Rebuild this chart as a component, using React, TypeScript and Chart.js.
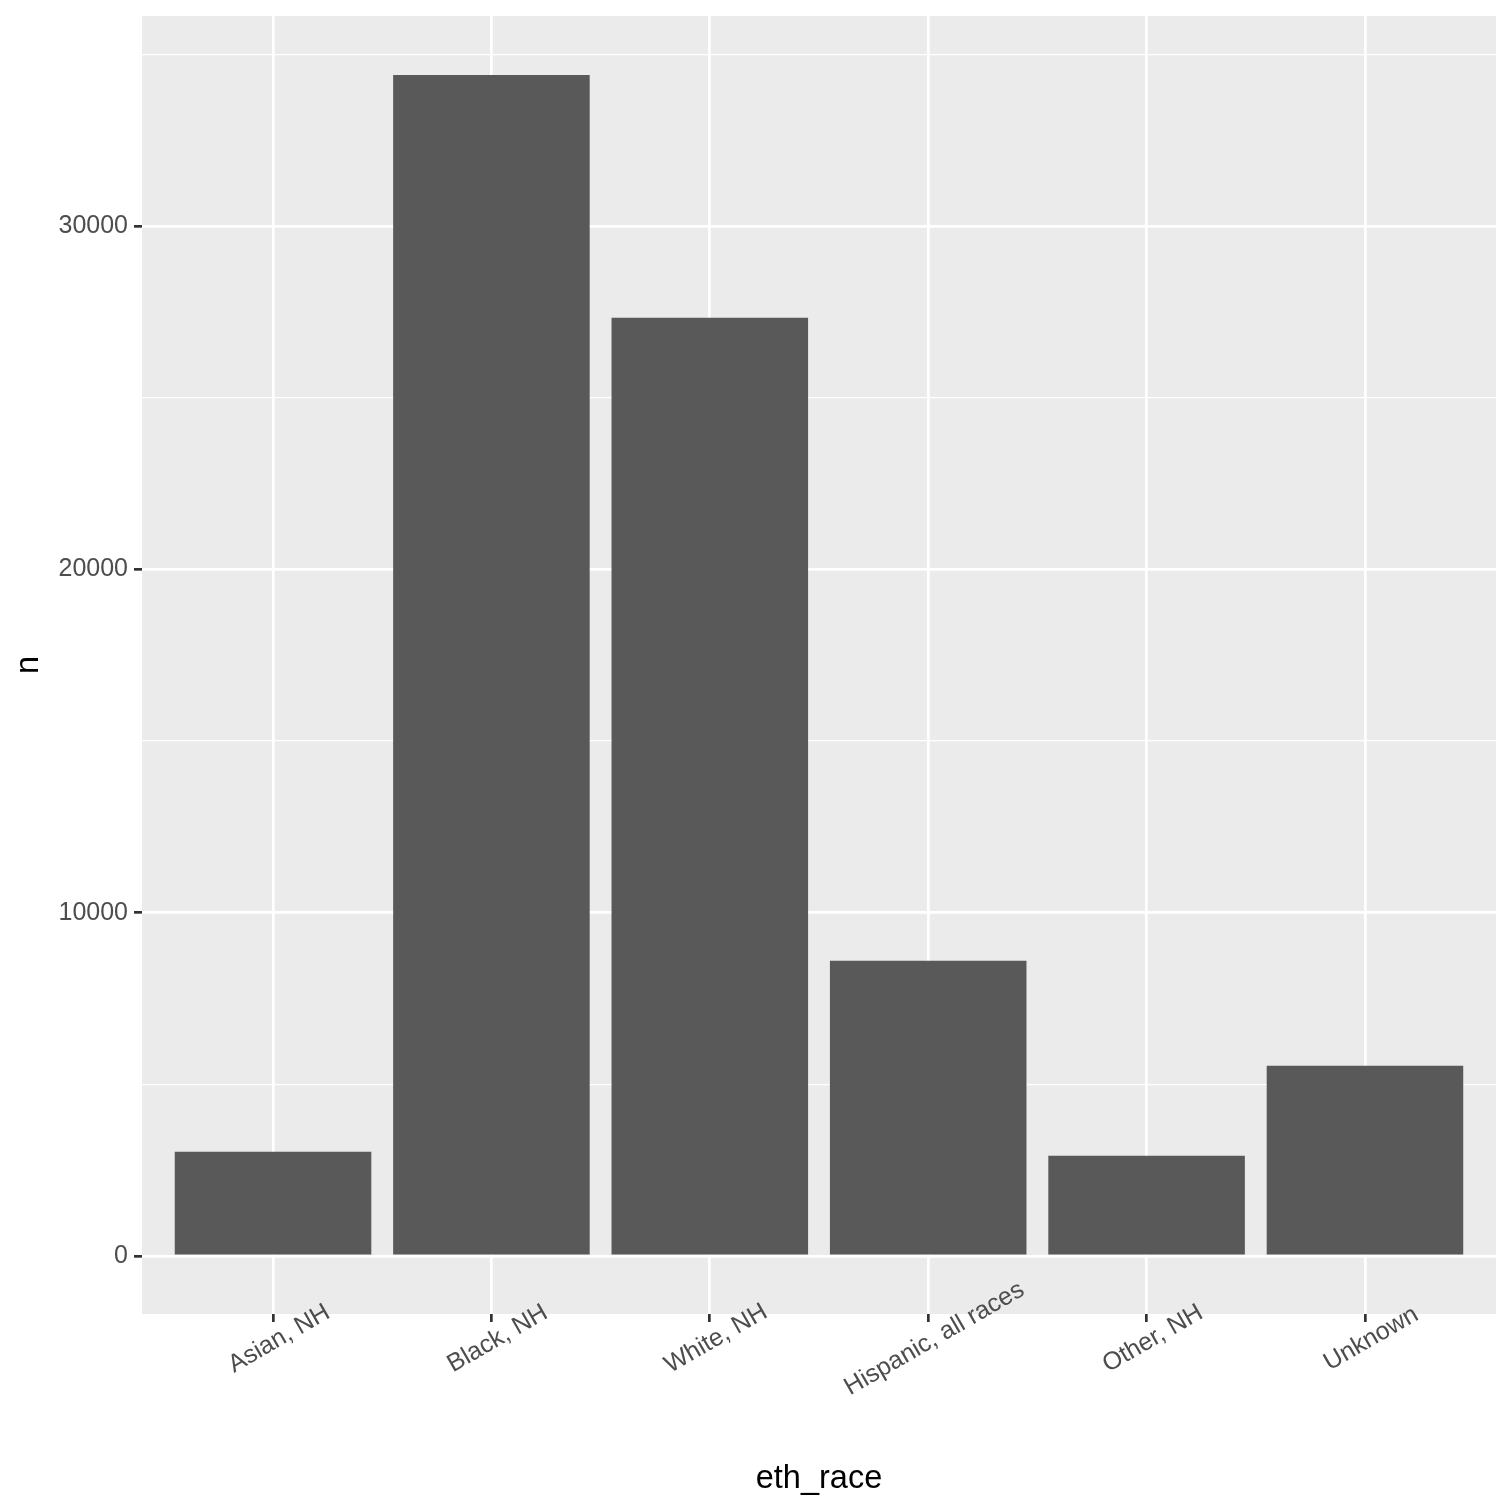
import React, { useEffect, useRef } from "react";
import { Chart, registerables } from "chart.js";

Chart.register(...registerables);

const categories = ["Asian, NH", "Black, NH", "White, NH", "Hispanic, all races", "Other, NH", "Unknown"];
const counts = [3035, 34400, 27330, 8600, 2920, 5540];
const yTicks = [0, 5000, 10000, 15000, 20000, 25000, 30000, 35000];
const yMajor = [0, 10000, 20000, 30000];

const FONT = "'Liberation Sans', Arial, sans-serif";

const panelBg = {
  id: "panelBg",
  beforeDraw(chart: any) {
    const { ctx, chartArea } = chart;
    ctx.save();
    ctx.fillStyle = "#ebebeb";
    ctx.fillRect(chartArea.left, chartArea.top, chartArea.right - chartArea.left, chartArea.bottom - chartArea.top);
    ctx.restore();
  },
};

const xLabels = {
  id: "xLabels",
  afterDraw(chart: any) {
    const { ctx, chartArea } = chart;
    const xs = chart.scales.x;
    ctx.save();
    ctx.font = `25px ${FONT}`;
    ctx.fillStyle = "#4d4d4d";
    ctx.textAlign = "center";
    ctx.textBaseline = "top";
    categories.forEach((c, i) => {
      const px = xs.getPixelForValue(i + 1);
      const py = chartArea.bottom + 8 + 6;
      ctx.save();
      ctx.translate(px, py);
      ctx.rotate(-Math.PI / 6);
      ctx.fillText(c, 0, 0);
      ctx.restore();
    });
    ctx.restore();
  },
};

export default function App() {
  const ref = useRef<HTMLCanvasElement>(null);
  useEffect(() => {
    if (!ref.current) return;
    const chart = new Chart(ref.current, {
      type: "bar",
      data: {
        datasets: [
          {
            data: categories.map((c, i) => ({ x: i + 1, y: counts[i] })),
            backgroundColor: "#595959",
            borderWidth: 0,
            barPercentage: 0.9,
            categoryPercentage: 1.0,
          },
        ],
      },
      options: {
        responsive: false,
        animation: false,
        devicePixelRatio: 1,
        layout: { padding: { left: 0, right: 16, top: 16, bottom: 0 } },
        plugins: { legend: { display: false }, tooltip: { enabled: false } },
        scales: {
          x: {
            type: "linear",
            position: "bottom",
            offset: false,
            min: 0.4,
            max: 6.6,
            bounds: "data",
            afterBuildTicks: (s: any) => {
              s.ticks = categories.map((c, i) => ({ value: i + 1 }));
            },
            afterFit: (s: any) => {
              s.height = 1512 - 1314;
              s.paddingLeft = 0;
              s.paddingRight = 0;
            },
            ticks: { display: false },
            grid: {
              offset: false,
              color: "#ffffff",
              lineWidth: 2.7,
              drawTicks: true,
              tickLength: 8,
              tickWidth: 2.7,
              tickColor: "#333333",
            },
            border: { display: false },
            title: {
              display: true,
              text: "eth_race",
              color: "#000000",
              font: { family: FONT, size: 32.5 },
              padding: { top: 0, bottom: 13.5 },
            },
          },
          y: {
            type: "linear",
            position: "left",
            min: -1692,
            max: 36122,
            bounds: "data",
            afterBuildTicks: (s: any) => {
              s.ticks = yTicks.map((v) => ({ value: v }));
            },
            afterFit: (s: any) => {
              s.width = 142;
              s.paddingTop = 0;
              s.paddingBottom = 0;
            },
            ticks: {
              autoSkip: false,
              color: "#4d4d4d",
              font: { family: FONT, size: 25 },
              padding: 6,
              callback: (v: any) => (yMajor.includes(Number(v)) ? String(v) : ""),
            },
            grid: {
              color: "#ffffff",
              lineWidth: (ctx: any) => (ctx.tick && ctx.tick.value % 10000 === 0 ? 2.7 : 1.35),
              drawTicks: true,
              tickLength: 8,
              tickWidth: 2.7,
              tickColor: (ctx: any) => (ctx.tick && ctx.tick.value % 10000 === 0 ? "#333333" : "rgba(0,0,0,0)"),
            },
            border: { display: false },
            title: {
              display: true,
              text: "n",
              color: "#000000",
              font: { family: FONT, size: 32.5 },
              padding: { top: 9.5, bottom: 0 },
            },
          },
        },
      },
      plugins: [panelBg, xLabels],
    } as any);
    return () => chart.destroy();
  }, []);
  return (
    <div style={{ position: "fixed", left: 0, top: 0, width: 1512, height: 1512, background: "#ffffff" }}>
      <canvas ref={ref} width={1512} height={1512} style={{ display: "block", width: 1512, height: 1512 }} />
    </div>
  );
}
